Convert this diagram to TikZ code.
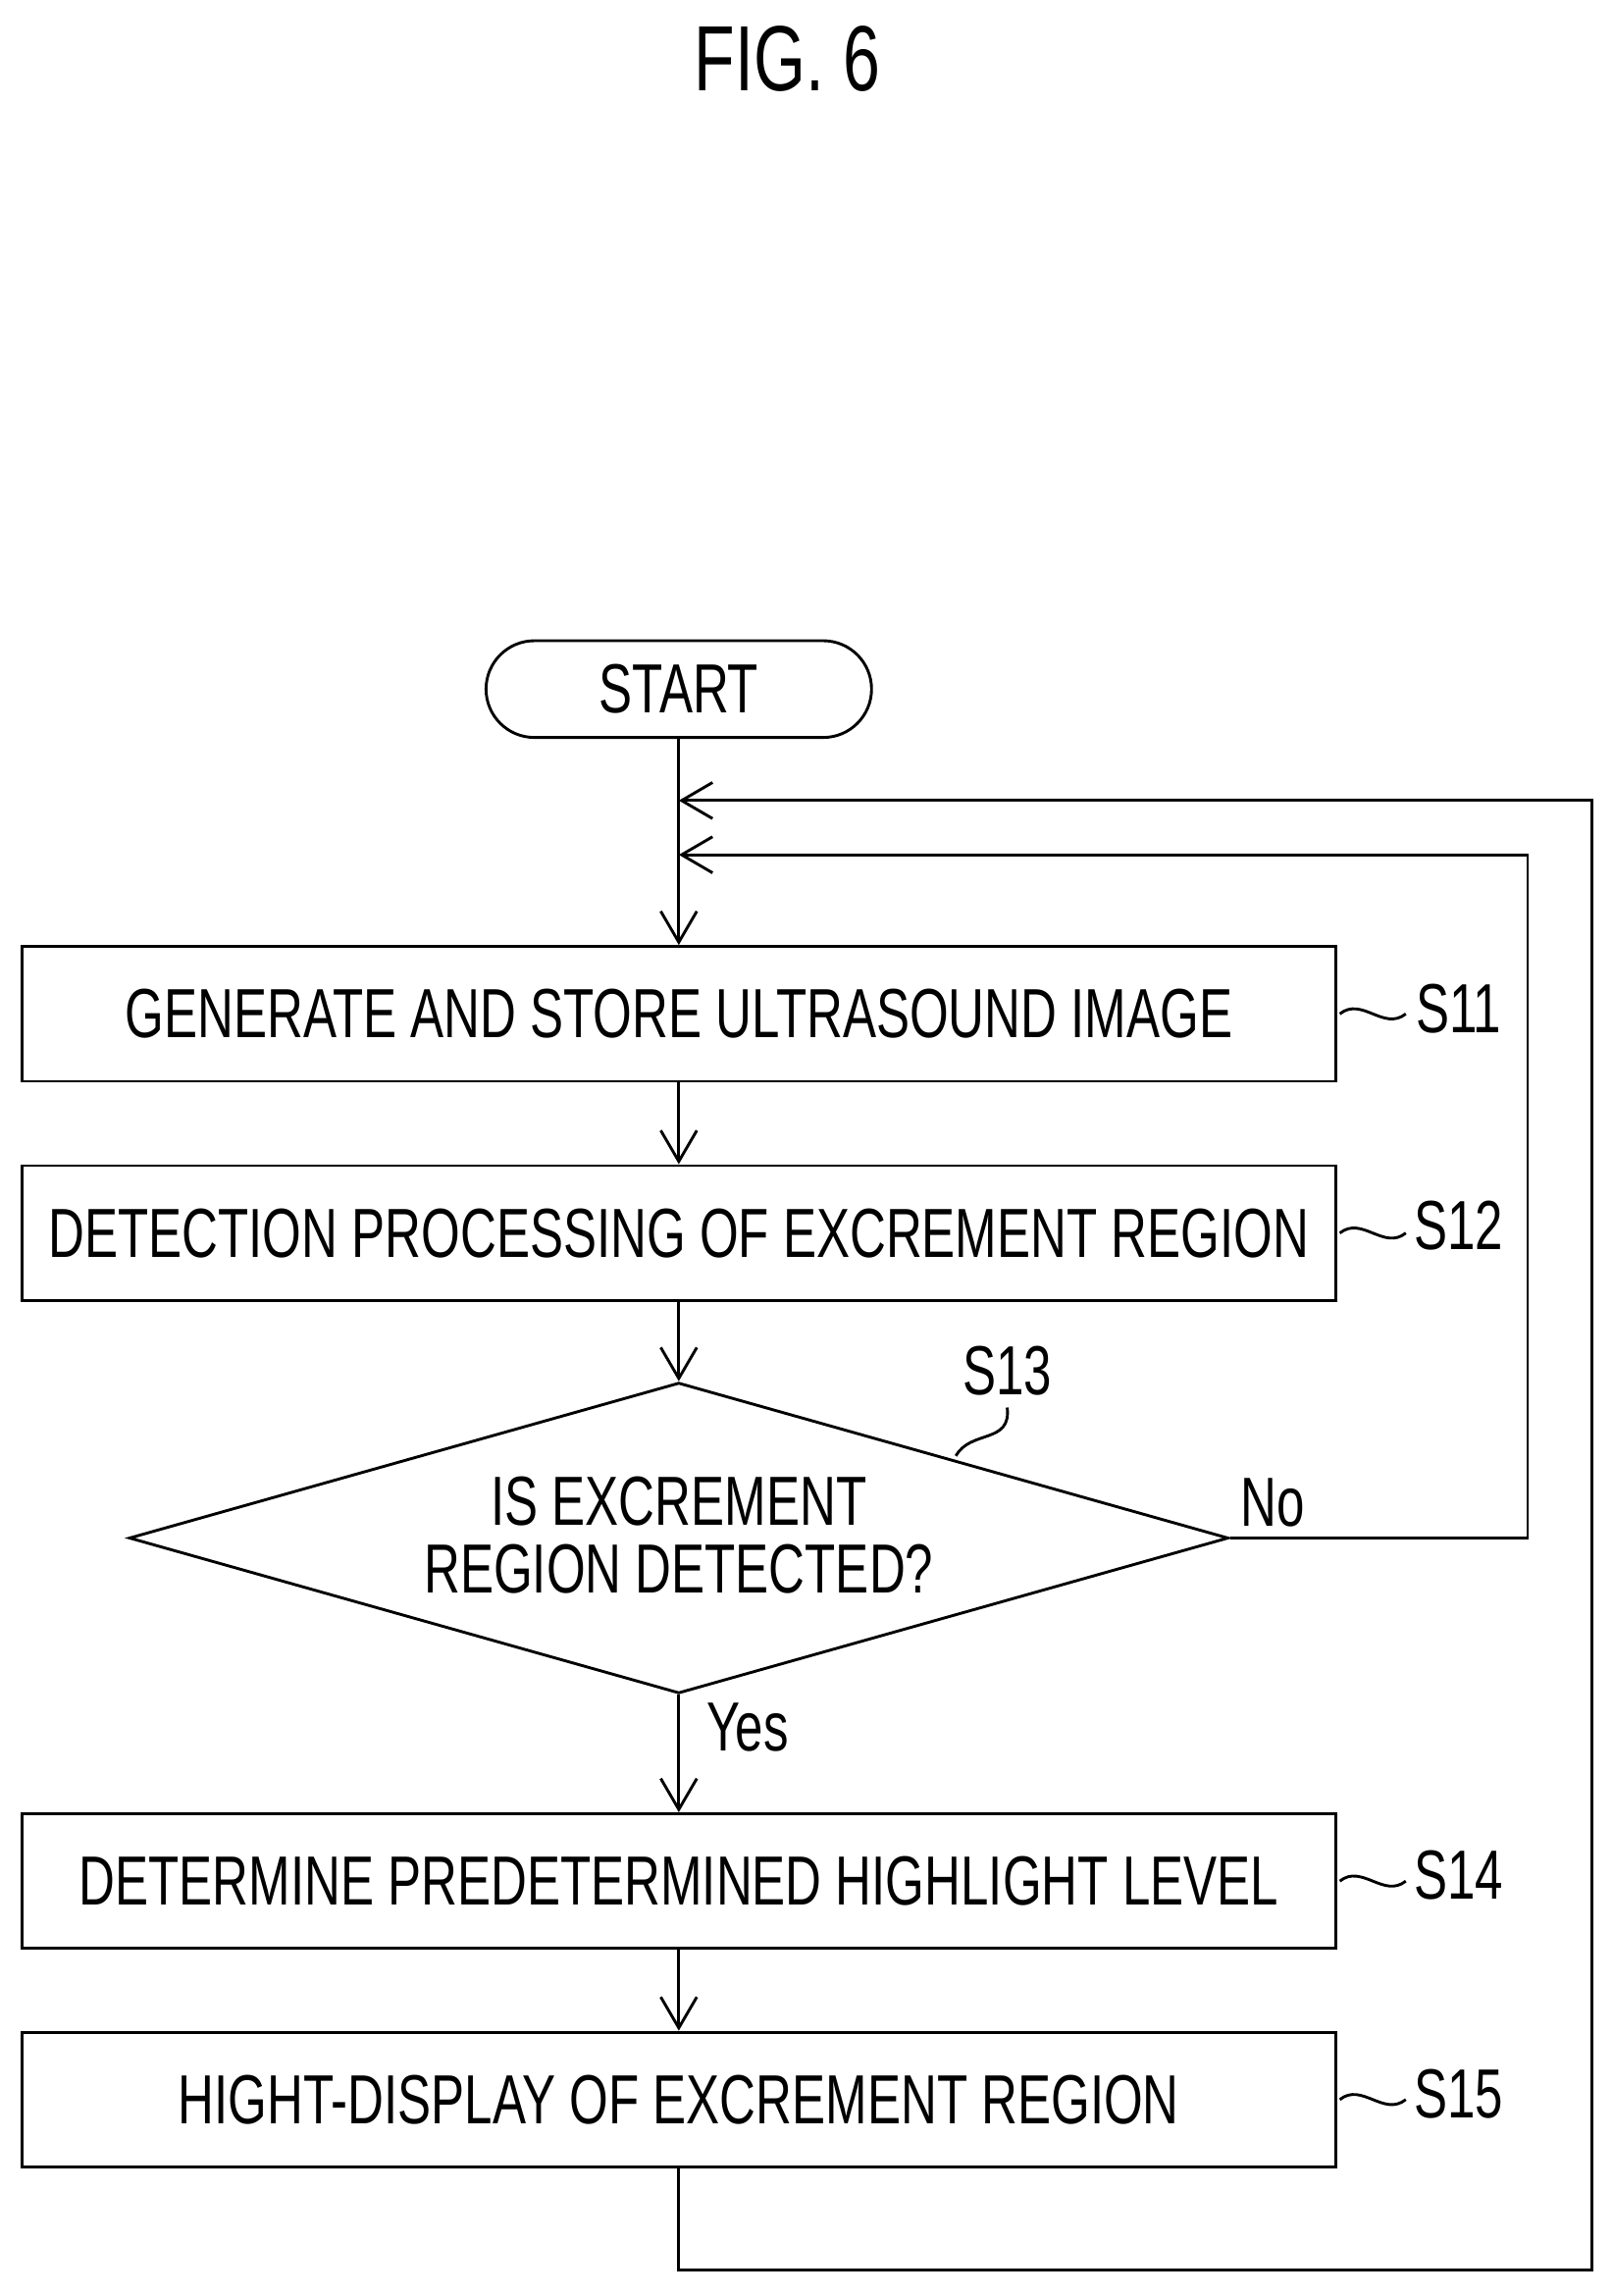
\documentclass[tikz,border=0pt]{standalone}
\usepackage{fontspec}
\setmainfont{Liberation Sans}[FakeStretch=0.72]
\usetikzlibrary{arrows.meta,shapes.geometric,calc}
\begin{document}
\begin{tikzpicture}[x=0.02cm,y=-0.02cm,line width=1.1pt,
  box/.style={draw,minimum width=17.92cm,minimum height=1.84cm,font=\fontsize{27}{30}\selectfont},
  lab/.style={font=\fontsize{27}{30}\selectfont},
  arr/.style={-{Straight Barb[length=12pt,width=14pt,line width=1.1pt]}}]
\useasboundingbox (0,0) rectangle (1100,1566);
\node[lab,font=\fontsize{36}{40}\selectfont] (fig) at (537,40) {FIG. 6};
\node[draw,rounded corners=0.66cm,minimum width=5.26cm,minimum height=1.32cm,lab] (start) at (463,470) {START};
\node[box] (b1) at (463,691.5) {GENERATE AND STORE ULTRASOUND IMAGE};
\node[box] (b2) at (463,841) {DETECTION PROCESSING OF EXCREMENT REGION};
\node[draw,diamond,aspect=3.54,inner sep=0pt,minimum width=15cm,minimum height=4.24cm] (d) at (463,1049) {};
\node[lab,align=center] (dt) at (463,1047) {IS EXCREMENT\\[-4pt]REGION DETECTED?};
\node[box] (b3) at (463,1283) {DETERMINE PREDETERMINED HIGHLIGHT LEVEL};
\node[box] (b4) at (463,1432) {HIGHT-DISPLAY OF EXCREMENT REGION};
\node[lab] (s11) at (995,688) {S11};
\node[lab] (s12) at (995,836) {S12};
\node[lab] (s13) at (687,935) {S13};
\node[lab] (s14) at (995,1279) {S14};
\node[lab] (s15) at (995,1428) {S15};
\node[lab] (no) at (868,1025) {No};
\node[lab] (yes) at (510,1178) {Yes};
\foreach \b in {b1,b2,b3,b4}{
  \draw ($(\b.east)+(2,0)$) .. controls +(15,-12) and +(-15,12) .. ($(\b.east)+(47,0)$);
}
\draw (652,993) .. controls (662,975) and (690,985) .. (687,960);
\coordinate (j1) at (463,546);
\coordinate (j2) at (463,583);
\coordinate (o1) at (463,1548);
\coordinate (o2) at (1086,1548);
\coordinate (o3) at (1086,546);
\coordinate (i1) at (1042,1049);
\coordinate (i2) at (1042,583);
\draw[arr] (start.south) -- (b1.north);
\draw[arr] (b1.south) -- (b2.north);
\draw[arr] (b2.south) -- (d.north);
\draw[arr] (d.south) -- (b3.north);
\draw[arr] (b3.south) -- (b4.north);
\draw[arr] (b4.south) -- (o1) -- (o2) -- (o3) -- (j1);
\draw[arr] (d.east) -- (i1) -- (i2) -- (j2);
\end{tikzpicture}
\end{document}
